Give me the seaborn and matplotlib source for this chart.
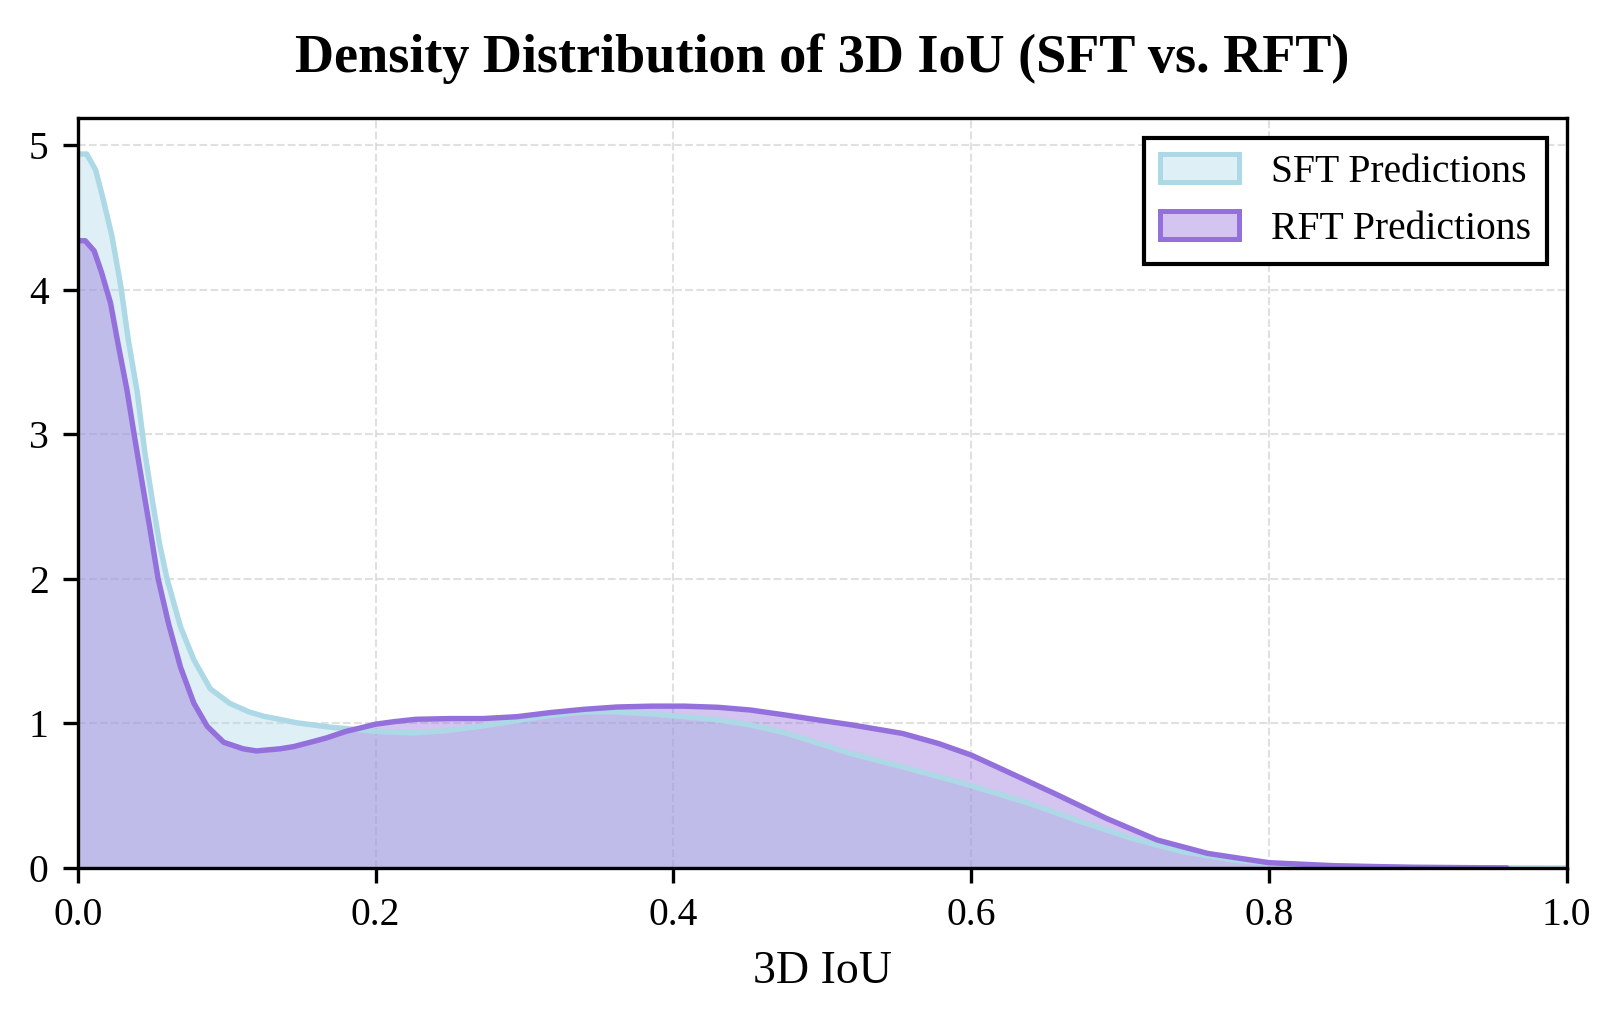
import numpy as np
import pandas as pd
import seaborn as sns
import matplotlib.pyplot as plt
from matplotlib.colors import to_rgb
from matplotlib.patches import Patch

# density curves (x = 3D IoU, y = density)
sft_x = [0.0, 0.006, 0.012, 0.017, 0.023, 0.029, 0.034, 0.040, 0.045, 0.050,
         0.055, 0.060, 0.069, 0.078, 0.089, 0.102, 0.115, 0.125, 0.135, 0.147,
         0.158, 0.170, 0.180, 0.200, 0.225, 0.248, 0.270, 0.295, 0.317, 0.340,
         0.362, 0.385, 0.407, 0.430, 0.452, 0.475, 0.497, 0.520, 0.554, 0.600,
         0.639, 0.674, 0.708, 0.742, 0.776, 0.800, 0.844, 0.900, 0.950, 1.0]
sft_density = [4.94, 4.94, 4.83, 4.63, 4.37, 4.02, 3.65, 3.29, 2.88, 2.55,
               2.24, 2.00, 1.67, 1.44, 1.24, 1.14, 1.08, 1.05, 1.03, 1.005,
               0.99, 0.974, 0.965, 0.945, 0.935, 0.95, 0.98, 1.02, 1.055, 1.08,
               1.08, 1.066, 1.047, 1.024, 0.99, 0.935, 0.865, 0.79, 0.70, 0.57,
               0.447, 0.32, 0.205, 0.113, 0.055, 0.032, 0.012, 0.004, 0.001, 0.0]

rft_x = [0.0, 0.005, 0.011, 0.016, 0.022, 0.027, 0.033, 0.0385, 0.044, 0.0486,
         0.054, 0.061, 0.069, 0.078, 0.087, 0.098, 0.111, 0.120, 0.136, 0.145,
         0.158, 0.167, 0.180, 0.189, 0.200, 0.212, 0.227, 0.250, 0.272, 0.295,
         0.317, 0.340, 0.362, 0.385, 0.407, 0.430, 0.452, 0.475, 0.497, 0.520,
         0.554, 0.578, 0.600, 0.622, 0.656, 0.691, 0.725, 0.759, 0.800, 0.844,
         0.896, 0.960]
rft_density = [4.34, 4.34, 4.27, 4.12, 3.91, 3.63, 3.31, 2.96, 2.62, 2.34,
               2.00, 1.69, 1.39, 1.14, 0.98, 0.87, 0.825, 0.81, 0.825, 0.84,
               0.875, 0.90, 0.945, 0.967, 0.995, 1.012, 1.029, 1.034, 1.034, 1.047,
               1.075, 1.098, 1.114, 1.12, 1.12, 1.112, 1.093, 1.059, 1.025, 0.99,
               0.931, 0.862, 0.782, 0.678, 0.516, 0.343, 0.194, 0.101, 0.037, 0.016,
               0.005, 0.001]

labels = ['SFT Predictions', 'RFT Predictions']
colors = ['lightblue', 'mediumpurple']

df = pd.concat([
    pd.DataFrame({'iou': sft_x, 'density': sft_density, 'model': labels[0]}),
    pd.DataFrame({'iou': rft_x, 'density': rft_density, 'model': labels[1]}),
])

sns.set_style('ticks')
plt.rcParams['font.family'] = ['Liberation Serif', 'DejaVu Serif']
plt.rcParams['text.color'] = 'black'
plt.rcParams['axes.labelcolor'] = 'black'
plt.rcParams['xtick.color'] = 'black'
plt.rcParams['ytick.color'] = 'black'

fig, ax = plt.subplots(figsize=(5.4, 3.4), dpi=300)

for name, color in zip(labels, colors):
    sub = df[df['model'] == name]
    ax.fill_between(sub['iou'], sub['density'], color=color, alpha=0.4, linewidth=0)
    sns.lineplot(data=sub, x='iou', y='density', color=color, linewidth=1.3, ax=ax)

ax.set_xlim(0, 1)
ax.set_ylim(0, 1.05 * max(sft_density))
ax.set_xticks([0.0, 0.2, 0.4, 0.6, 0.8, 1.0])
ax.set_yticks([0, 1, 2, 3, 4, 5])
ax.tick_params(labelsize=9.5, width=0.8, length=3.5, color='black')
for s in ax.spines.values():
    s.set_color('black')
    s.set_linewidth(0.8)
ax.grid(True, linestyle='--', linewidth=0.5, color='lightgray', alpha=0.7)
ax.set_axisbelow(True)

ax.set_xlabel('3D IoU', fontsize=11)
ax.set_ylabel('')
ax.set_title('Density Distribution of 3D IoU (SFT vs. RFT)', fontsize=13,
             fontweight='bold', pad=11)

handles = [Patch(facecolor=(*to_rgb(c), 0.4), edgecolor=c, linewidth=1.2) for c in colors]
leg = ax.legend(handles, labels, loc='upper right', fontsize=9.5, frameon=True,
                fancybox=False, edgecolor='black', framealpha=1)
leg.get_frame().set_linewidth(1.0)

fig.subplots_adjust(left=0.048, right=0.967, top=0.884, bottom=0.149)
plt.savefig('out.png', dpi=300)
